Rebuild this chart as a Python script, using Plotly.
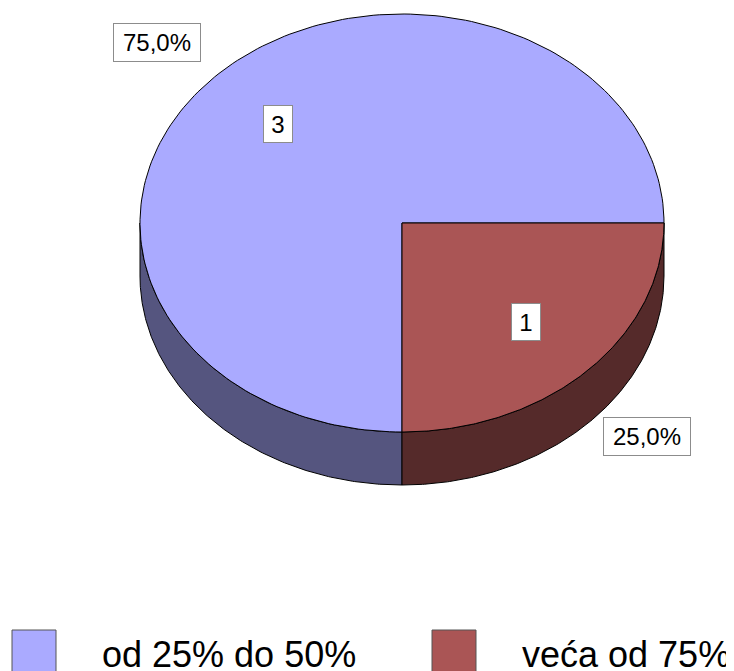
import numpy as np
import plotly.graph_objects as go

categories = ["od 25% do 50%", "veća od 75%"]
values = [3, 1]
top_colors = ["#AAAAFF", "#AA5555"]
side_colors = ["#55557F", "#552A2A"]

W, H = 734, 671
OFF = 8  # page body margin offset
cx, cy, rx, ry, depth = 402, 223, 262, 209, 53

total = float(sum(values))
fracs = [v / total for v in values]
starts = np.concatenate([[0.0], np.cumsum(fracs)[:-1]]) * 360.0
ends = np.cumsum(fracs) * 360.0


def arc(a0, a1, dz=0.0, r=1.0, n=200):
    t = np.radians(np.linspace(a0, a1, n))
    return cx + rx * r * np.cos(t), cy - ry * r * np.sin(t) + dz


fig = go.Figure()

# side walls (front half only)
for i in range(len(values)):
    lo, hi = max(starts[i], 180.0), min(ends[i], 360.0)
    if hi <= lo:
        continue
    xt, yt = arc(lo, hi)
    xb, yb = arc(hi, lo, dz=depth)
    xs = np.concatenate([xt, xb, xt[:1]])
    ys = np.concatenate([yt, yb, yt[:1]])
    fig.add_trace(go.Scatter(x=xs, y=ys, mode="lines", fill="toself",
                             fillcolor=side_colors[i],
                             line=dict(color="#000000", width=1),
                             hoverinfo="skip", showlegend=False))

# top faces
for i in range(len(values)):
    xa, ya = arc(starts[i], ends[i])
    xs = np.concatenate([[cx], xa, [cx]])
    ys = np.concatenate([[cy], ya, [cy]])
    fig.add_trace(go.Scatter(x=xs, y=ys, mode="lines", fill="toself",
                             fillcolor=top_colors[i],
                             line=dict(color="#000000", width=1),
                             name=categories[i], hoverinfo="skip",
                             showlegend=False))

annotations = []
for i in range(len(values)):
    mid = np.radians((starts[i] + ends[i]) / 2.0)
    vx = cx + rx * 0.67 * np.cos(mid)
    vy = cy - ry * 0.67 * np.sin(mid)
    annotations.append(dict(x=vx, y=vy, xref="x", yref="y", showarrow=False,
                            text=str(values[i]),
                            font=dict(family="Liberation Sans, Arial", size=24, color="#000000"),
                            bgcolor="#FFFFFF", bordercolor="#8C8C8C", borderwidth=1,
                            borderpad=0, width=28, height=36))
    px = cx + rx * 1.32 * np.cos(mid)
    py = cy - ry * 1.22 * np.sin(mid) + (depth * 0.62 if np.sin(mid) < 0 else 0)
    ptxt = f"{fracs[i] * 100:.1f}".replace(".", ",") + "%"
    annotations.append(dict(x=px, y=py, xref="x", yref="y", showarrow=False,
                            text=ptxt,
                            font=dict(family="Liberation Sans, Arial", size=24, color="#000000"),
                            bgcolor="#FFFFFF", bordercolor="#8C8C8C", borderwidth=1,
                            borderpad=0, width=86, height=37))

# custom legend
legend_x = [12, 432]
shapes = []
for i in range(len(values)):
    shapes.append(dict(type="rect", xref="x", yref="y",
                       x0=legend_x[i], x1=legend_x[i] + 44, y0=630, y1=680,
                       fillcolor=top_colors[i], line=dict(color="#555555", width=1)))
    annotations.append(dict(x=legend_x[i] + 88, y=654, xref="x", yref="y",
                            xanchor="left", yanchor="middle", showarrow=False,
                            text=categories[i],
                            font=dict(family="Liberation Sans, Arial", size=36, color="#000000")))

fig.update_layout(
    width=W, height=H,
    margin=dict(l=0, r=0, t=0, b=0),
    paper_bgcolor="#FFFFFF", plot_bgcolor="#FFFFFF",
    xaxis=dict(range=[OFF, W + OFF], visible=False, fixedrange=True),
    yaxis=dict(range=[H + OFF, OFF], visible=False, fixedrange=True),
    annotations=annotations,
    shapes=shapes,
    showlegend=False,
)

fig.write_html("out.html")
